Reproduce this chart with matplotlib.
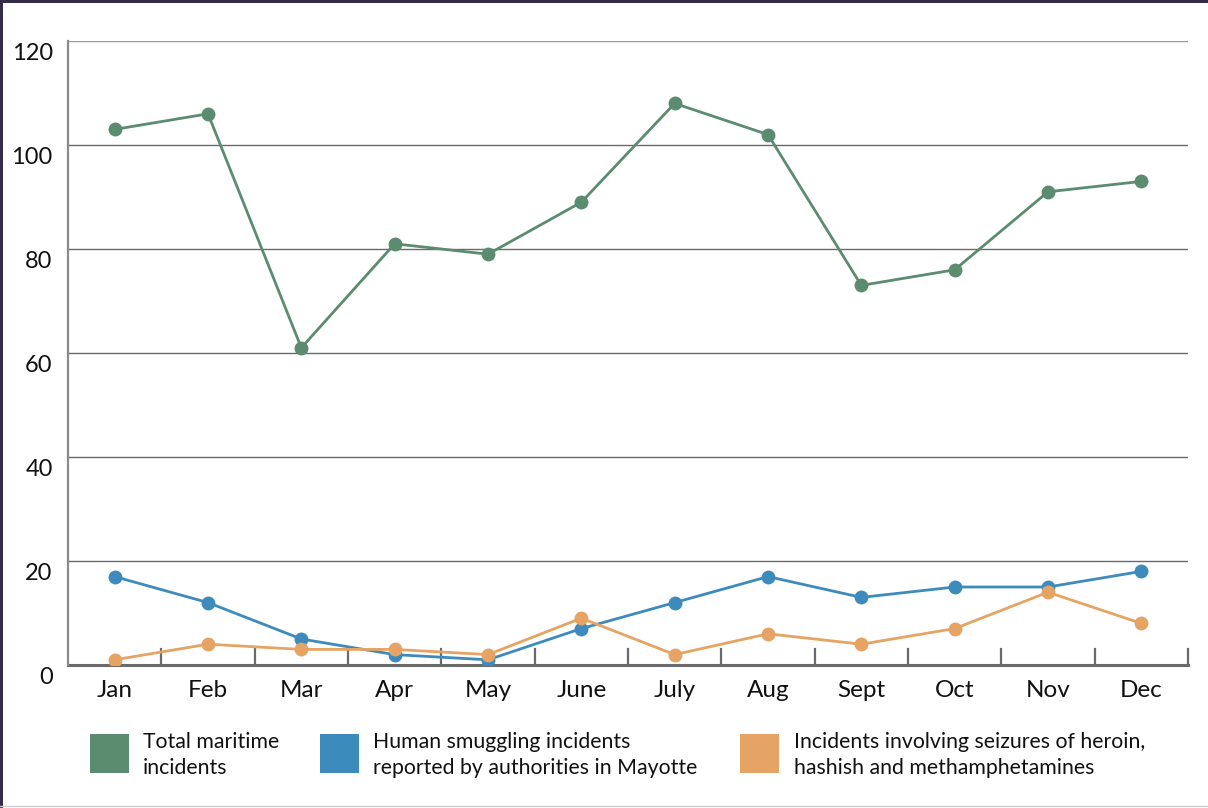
import matplotlib
matplotlib.use("Agg")
import matplotlib.pyplot as plt
import matplotlib.transforms as mtransforms
from matplotlib.patches import Rectangle
from matplotlib.lines import Line2D

months = ["Jan", "Feb", "Mar", "Apr", "May", "June", "July", "Aug", "Sept", "Oct", "Nov", "Dec"]
total_maritime = [103, 106, 61, 81, 79, 89, 108, 102, 73, 76, 91, 93]
human_smuggling = [17, 12, 5, 2, 1, 7, 12, 17, 13, 15, 15, 18]
drug_seizures = [1, 4, 3, 3, 2, 9, 2, 6, 4, 7, 14, 8]
y_ticks = [0, 20, 40, 60, 80, 100, 120]
legend_labels = ["Total maritime\nincidents",
                 "Human smuggling incidents\nreported by authorities in Mayotte",
                 "Incidents involving seizures of heroin,\nhashish and methamphetamines"]

c_green = "#5b8c70"
c_blue = "#3d8bbd"
c_orange = "#e5a463"

plt.rcParams['font.family'] = ['Lato', 'DejaVu Sans']

W, H = 1208, 808
fig = plt.figure(figsize=(W / 100, H / 100), dpi=100)
ax = fig.add_axes([68 / W, 1 - 665 / H, (1188 - 68) / W, (665 - 41) / H])

x = list(range(len(months)))
for vals, col in [(total_maritime, c_green), (human_smuggling, c_blue), (drug_seizures, c_orange)]:
    ax.plot(x, vals, color=col, lw=2.0, marker='o', markersize=10, markeredgewidth=0, zorder=3,
            solid_capstyle='round')

ax.set_xlim(-0.5, len(months) - 0.5)
ax.set_ylim(0, 120)

# gridlines
for v in y_ticks[1:]:
    ax.axhline(v, color="#999999" if v == 120 else "#6a6a6a", lw=1.0, zorder=1)

for s in ['top', 'right']:
    ax.spines[s].set_visible(False)
ax.spines['left'].set_color("#8a8a8a")
ax.spines['left'].set_linewidth(1.6)
ax.spines['bottom'].set_color("#6a6a6a")
ax.spines['bottom'].set_linewidth(2.2)
ax.spines['bottom'].set_zorder(2)

ax.set_yticks(y_ticks)
ax.set_yticklabels([str(v) for v in y_ticks], fontsize=17, color="#111111")
ax.tick_params(axis='y', length=0, pad=11)
offset = mtransforms.ScaledTranslation(0, -10 / 100, fig.dpi_scale_trans)
for lab in ax.get_yticklabels():
    lab.set_transform(lab.get_transform() + offset)

ax.set_xticks(x)
ax.set_xticklabels(months, fontsize=17.5, color="#111111")
ax.tick_params(axis='x', length=0, pad=11)
# category boundary ticks pointing inward
for b in [i + 0.5 for i in range(len(months))]:
    ax.plot([b, b], [0, 3.0], color="#6a6a6a", lw=1.6, zorder=2, clip_on=False)

# legend (manual)
leg_sq_x = [90, 320, 740]
leg_txt_x = [143, 373, 794]
cols = [c_green, c_blue, c_orange]
for sx, tx, col, lab in zip(leg_sq_x, leg_txt_x, cols, legend_labels):
    fig.add_artist(Rectangle((sx / W, 1 - 773 / H), 39 / W, 39 / H, transform=fig.transFigure,
                             facecolor=col, edgecolor='none'))
    fig.text(tx / W, 1 - 755 / H, lab, fontsize=15.3, color="#111111", va='center', ha='left',
             linespacing=1.4)

# frame borders
fig.add_artist(Rectangle((0, 1 - 3 / H), 1, 3 / H, transform=fig.transFigure,
                         facecolor="#352c48", edgecolor='none'))
fig.add_artist(Rectangle((0, 0), 3 / W, 1, transform=fig.transFigure,
                         facecolor="#352c48", edgecolor='none'))
fig.add_artist(Line2D([0, 1], [2 / H, 2 / H], transform=fig.transFigure, color="#cccccc", lw=1))

fig.savefig("out.png", dpi=100)
